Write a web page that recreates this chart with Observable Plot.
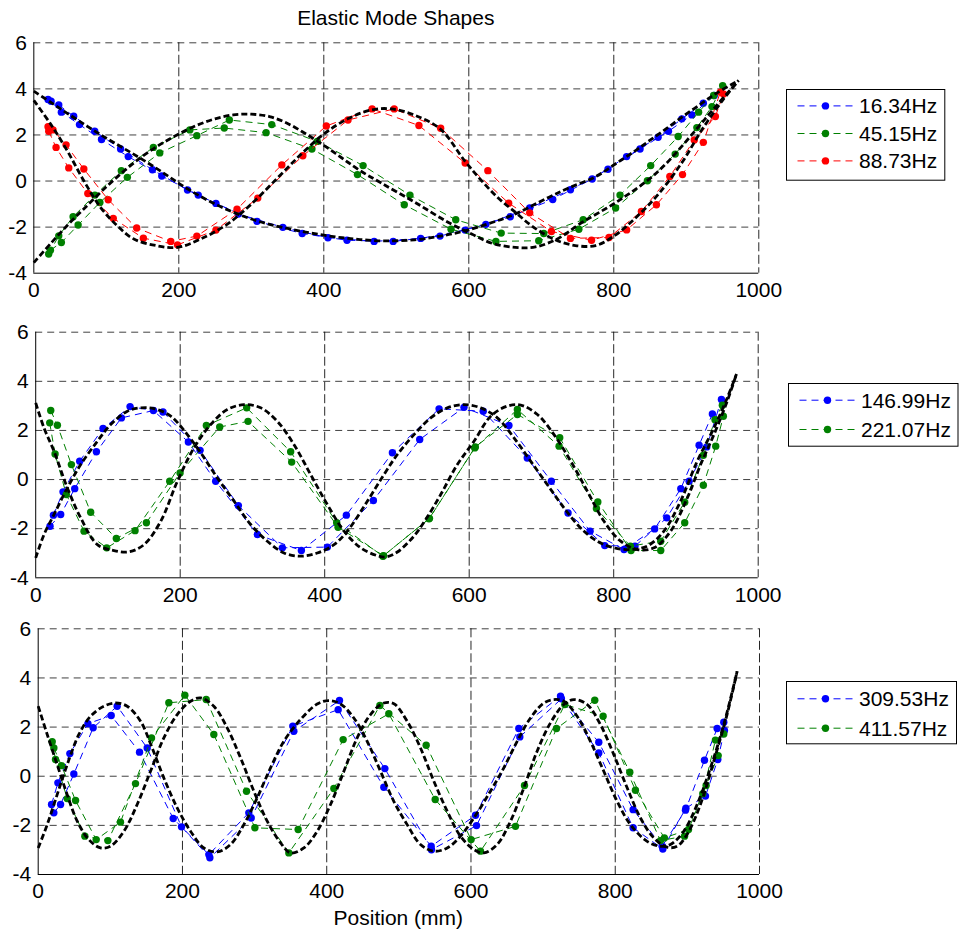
<!DOCTYPE html>
<html><head><meta charset="utf-8">
<script src="https://cdn.jsdelivr.net/npm/d3@7"></script>
<script src="https://cdn.jsdelivr.net/npm/@observablehq/plot@0.6"></script>
<style>
body{margin:0;background:#fff;}
#root{position:relative;width:959px;height:933px;overflow:hidden;font-family:"Liberation Sans",Arial,Helvetica,sans-serif;color:#000;}
#root > *{position:absolute;}
.t{font-size:21px;line-height:21px;text-align:center;white-space:nowrap;}
</style></head><body><div id="root"></div>
<script>
// ---------- ticks / labels ----------
const xTicks = [0, 200, 400, 600, 800, 1000];
const yTicks = [-4, -2, 0, 2, 4, 6];
const titleText = "Elastic Mode Shapes";
const xLabelText = "Position (mm)";
const labels1 = ["16.34Hz", "45.15Hz", "88.73Hz"];
const labels2 = ["146.99Hz", "221.07Hz"];
const labels3 = ["309.53Hz", "411.57Hz"];

// ---------- panel 1 measured ----------
const pos16 = [19.6,23.8,34.4,38,55,63,84,93.4,119.7,130.3,163.6,176.5,212,226.8,251.2,282.1,307.9,343.5,370.2,405.7,432,469.4,495.7,533.6,560.3,594.9,623.5,657.2,684,715.8,740.2,770.2,792,817.7,836.2,861.1,875.4,893.9,907.7,923.5,938.6];
const amp16 = [3.54,3.46,3.30,2.99,2.81,2.45,2.16,1.80,1.39,1.06,0.49,0.22,-0.39,-0.61,-0.97,-1.43,-1.75,-2.01,-2.28,-2.46,-2.57,-2.62,-2.62,-2.49,-2.39,-2.13,-1.88,-1.55,-1.17,-0.80,-0.38,0.09,0.51,1.06,1.39,1.90,2.16,2.70,2.87,3.38,3.71];
const pos45 = [20.5,22.9,34.4,38,54.2,61.1,84.2,91.1,120.7,129,164.9,173.7,215.2,224.9,262.7,269.7,320.4,328.2,383.6,391,446.4,454.2,511,518.8,575.5,582,637.4,644.7,696.5,703.4,751.8,757.8,802.5,808.6,846.4,850.9,884.7,888.8,914.6,917,935.4,937.7,950.2];
const amp45 = [-3.17,-3.0,-2.38,-2.67,-1.55,-1.91,-0.61,-0.93,0.45,0.16,1.46,1.22,2.22,1.97,2.30,2.65,2.10,2.45,1.39,1.72,0.28,0.67,-1.03,-0.61,-2.09,-1.68,-2.62,-2.26,-2.59,-2.28,-2.09,-1.68,-1.17,-0.61,0.01,0.67,1.17,1.93,2.32,2.99,3.23,3.71,4.14];
const pos88 = [19.6,20.6,26.5,30.7,44.5,48.2,69,74.5,102.6,109.6,141.9,151.1,188.9,198.2,224.9,251.2,280.3,308.9,342.1,371.1,403.5,433.4,466.6,497.1,531.2,561.2,595,626.3,655,684,714,740.2,769.3,793.4,817.7,838.1,858.8,877.3,894.8,911,923.5,940.1,947,951.2];
const amp88 = [2.36,2.16,2.22,1.46,1.57,0.57,0.52,-0.54,-0.81,-1.62,-2.04,-2.48,-2.62,-2.77,-2.39,-2.13,-1.22,-0.74,0.70,1.10,2.39,2.65,3.13,3.13,2.41,2.29,0.78,0.45,-0.96,-1.38,-2.19,-2.49,-2.57,-2.45,-2.12,-1.32,-1.03,0.20,0.28,1.78,1.68,2.80,3.86,3.78];

// ---------- panel 1 reference (black) ----------
const m1x = [0,25,50,75,100,125,150,175,200,225,250,275,300,325,350,375,400,425,450,480,525,563,595,632,664,710,738,775,802,830,849,872,895,918,941,972];
const m1y = [3.90,3.38,2.86,2.35,1.86,1.40,0.93,0.43,-0.10,-0.58,-1.00,-1.35,-1.65,-1.88,-2.06,-2.22,-2.35,-2.46,-2.54,-2.60,-2.55,-2.38,-2.16,-1.80,-1.43,-0.71,-0.30,0.19,0.74,1.32,1.75,2.26,2.80,3.30,3.80,4.36];
const m2x = [0,25,50,75,100,125,150,175,200,225,250,275,300,325,350,375,400,425,450,480,526,572,604,632,664,692,724,756,802,849,872,895,918,941,972];
const m2y = [-3.54,-2.65,-1.80,-1.02,-0.25,0.45,1.08,1.60,2.04,2.42,2.70,2.87,2.90,2.80,2.50,2.05,1.55,1.00,0.45,-0.10,-0.93,-1.80,-2.30,-2.70,-2.88,-2.86,-2.48,-1.80,-0.95,0.09,0.75,1.55,2.40,3.25,4.36];
const m3x = [0,23,46,69,92,115,138,170,198,230,267,300,337,369,400,433,466,493,526,561,595,618,641,664,687,719,747,775,802,830,862,895,922,950,972];
const m3y = [3.50,2.48,1.32,0.01,-1.14,-1.94,-2.52,-2.81,-2.88,-2.52,-1.87,-1.00,0.16,1.17,2.04,2.70,3.09,3.13,2.85,2.25,0.85,0.0,-0.75,-1.35,-1.95,-2.55,-2.80,-2.80,-2.35,-1.60,-0.55,0.85,2.25,3.50,4.36];

// ---------- panel 2 measured ----------
const pos147 = [19.8,24.5,34.6,37.8,54,60.9,84,93.2,118.6,130.6,162.9,176.2,211.3,227.5,249.1,280.5,306.8,341.4,367.7,403.7,430,467.4,493.7,531.5,558.3,592.8,619.4,655,680.4,713.7,736.8,767.3,787.6,814.3,829.5,856.7,873.4,892.9,904.4,918.2,928.8,936.6,949.1];
const amp147 = [-1.90,-1.45,-1.42,-0.50,-0.37,0.75,1.13,2.08,2.51,2.97,2.81,2.75,1.53,1.19,-0.07,-1.06,-2.24,-2.78,-2.89,-2.75,-1.45,-0.85,1.09,1.63,2.88,2.94,2.78,2.20,0.88,-0.07,-1.36,-2.10,-2.69,-2.85,-2.71,-2.01,-1.56,-0.37,-0.07,1.40,1.33,2.67,3.26];
const pos221 = [19.4,20.8,26.8,30,42.4,49.4,66.9,76.1,98.3,111.6,137.5,153.2,185.5,199.8,236.2,254.7,292,293.9,352.9,354.3,416.6,418.5,480.5,481.5,544.4,545,607.6,608.5,666.7,666.7,724.4,725.3,776.1,778,823.1,824,865.1,865.1,898.3,898.3,924.1,924.1,940.2,941.2,950.4,951.8];
const amp221 = [2.31,2.81,1.04,2.21,-0.61,0.61,-2.10,-1.33,-2.78,-2.40,-2.08,-1.76,-0.07,0.27,2.20,2.14,2.92,2.37,1.13,0.71,-1.76,-1.94,-3.12,-3.10,-1.60,-1.58,1.29,1.33,2.85,2.65,1.36,1.70,-1.18,-0.91,-2.71,-2.89,-2.51,-2.89,-0.92,-1.76,0.99,-0.23,2.44,1.36,3.03,2.58];

// ---------- panel 2 reference (black) ----------
const m4x = [0,11.5,25.4,43.8,62.3,85.4,103.8,126.9,145.3,163.8,186.9,209.9,228.4,251.4,274.5,297.6,320.6,343.7,366.8,389.8,412.9,431.4,459,482,500.6,523.6,546.7,569.7,592.8,615.9,638.9,662,685,708,731.1,754.2,777.2,800.3,823.4,846.4,869.5,892.6,915.6,938.7,957.1,970];
const m4y = [-3.19,-2.24,-1.42,-0.34,0.61,1.56,2.24,2.78,2.92,2.89,2.58,1.83,1.09,0.07,-0.88,-1.83,-2.51,-2.99,-3.12,-2.99,-2.65,-2.10,-0.88,0.20,1.02,1.83,2.51,2.92,3.05,2.92,2.51,1.70,0.75,-0.20,-1.15,-1.97,-2.51,-2.78,-2.85,-2.71,-2.10,-0.88,0.75,2.10,3.32,4.30];
const m5x = [0,11.5,25.4,43.8,62.3,85.4,108.4,129.2,149.9,173,196.1,219.1,242.2,265.2,288.3,311.4,334.4,357.6,380.6,403.7,426.8,449.8,472.9,485,500.6,523.6,540,560.6,583.6,606.7,629.8,652.8,671.3,694.4,717.4,740.5,763.5,786.6,809.7,832.7,855.8,878.8,901.9,920.3,938.7,957.1,970];
const m5y = [3.12,2.10,1.15,-0.34,-1.56,-2.65,-2.89,-2.94,-2.65,-1.70,-0.07,1.29,2.24,2.85,3.05,2.92,2.37,1.42,0.20,-1.02,-2.10,-2.78,-3.10,-3.15,-2.95,-2.30,-1.62,-0.61,0.61,1.56,2.58,2.99,3.03,2.65,1.83,0.75,-0.47,-1.70,-2.51,-2.85,-2.78,-2.10,-0.75,0.61,1.83,3.19,4.30];

// ---------- panel 3 measured ----------
const pos309 = [18.5,21.7,27.3,31,43.9,49.4,68.9,76.2,101.2,109.5,140.5,151.1,187.2,198.7,236.6,238,292,295.3,353,354.4,415.9,417.7,479.2,480.6,544.8,545.2,606.3,607.7,666.3,667.7,724.1,725.4,777.2,777.2,824.8,824.8,865,866,897.4,898,923.7,925.1,941.3,942.2,950.5,951.4];
const amp309 = [-1.15,-1.49,-0.27,-1.15,0.92,0.09,2.14,1.97,2.47,2.85,0.98,1.15,-1.72,-2.06,-3.19,-3.32,-1.49,-1.70,2.04,1.83,2.71,3.08,-0.45,0.31,-2.85,-2.99,-1.59,-2.01,1.94,1.60,3.26,3.15,1.38,0.95,-1.36,-2.10,-2.85,-2.96,-1.38,-1.30,0.65,-0.81,1.94,0.68,2.20,1.86];
const pos411 = [19.4,21.7,24,32.3,40.2,51.8,64.7,80.4,96.6,114.1,134.9,157.1,181.1,203.3,232.9,243.5,288.8,300.4,347.5,360.4,409.9,422.8,473.7,486.1,537.9,550.4,600.2,613.2,661.7,674.2,718.5,730.1,771.6,783.2,820.2,828,862.7,868.1,896.1,901.6,921.4,926,938.9,942.7,950.5];
const amp411 = [1.40,1.15,0.68,0.43,-0.91,-0.99,-2.44,-2.58,-2.62,-1.87,-0.30,1.56,2.99,3.30,3.12,1.70,-0.61,-2.10,-3.12,-2.17,-0.50,1.49,2.88,2.54,1.26,-0.95,-2.58,-3.05,-2.04,-0.38,1.94,2.92,3.09,2.44,0.16,-0.57,-2.62,-2.51,-2.44,-2.17,-0.71,-0.38,1.47,0.84,1.72];

// ---------- panel 3 reference (black) ----------
const m6x = [0,12.5,26.3,40.2,56.4,72.6,91,107.2,123.4,141.9,158,174.2,192.7,211.2,229.7,248.2,266.6,285.1,303.6,322.1,340.6,363.7,386.8,403,419.1,437.6,456.1,474.6,493,511.5,530,548.5,567,585.4,603.9,627,645.5,664,682.5,701,714.8,728.7,747.2,765.6,784.1,802.6,821.1,844.2,862.7,876.5,895,913.5,932,950.5,969];
const m6y = [-2.92,-1.97,-0.75,0.47,1.70,2.44,2.85,2.98,2.85,2.24,1.15,-0.07,-1.29,-2.24,-2.92,-3.08,-2.78,-1.97,-0.88,0.34,1.42,2.31,2.94,3.08,2.94,2.37,1.42,0.20,-1.02,-1.97,-2.78,-3.05,-2.92,-2.44,-1.70,-0.61,0.34,1.42,2.37,2.98,3.12,3.05,2.44,1.42,0.20,-1.02,-1.97,-2.65,-2.85,-2.78,-2.24,-1.15,0.34,2.10,4.27];
const m7x = [0,12.5,26.3,40.2,54.1,70.2,86.4,100.3,118.8,137.2,155.7,174.2,192.7,211.2,225,243.5,262,280.5,299,317.5,336,349.8,368.3,386.8,405.3,423.8,442.2,460.7,479.2,493.1,511.5,530,548.5,567,585.4,603.9,617.8,636.3,654.8,673.3,691.7,710.2,728.7,742.6,761,779.5,798,816.5,835,853.4,871.9,885.8,899.6,918.1,936.6,955,969];
const m7y = [2.85,1.70,0.47,-0.75,-1.83,-2.58,-2.92,-2.85,-2.24,-1.15,0.20,1.56,2.51,3.05,3.19,2.85,1.97,0.75,-0.61,-1.83,-2.71,-3.12,-2.92,-2.24,-1.15,0.20,1.56,2.51,2.98,2.95,2.24,1.15,-0.20,-1.42,-2.44,-2.98,-3.12,-2.78,-1.83,-0.47,1.02,2.17,2.92,3.12,2.92,2.10,0.88,-0.47,-1.70,-2.51,-2.89,-2.85,-2.37,-1.15,0.61,2.51,4.27];

// ---------- assembly ----------
const seriesColors = ["#0000ff", "#008000", "#ff0000"];
const panels = [
  {measured: [[pos16, amp16], [pos45, amp45], [pos88, amp88]], labels: labels1, ref: [[m1x, m1y], [m2x, m2y], [m3x, m3y]]},
  {measured: [[pos147, amp147], [pos221, amp221]], labels: labels2, ref: [[m4x, m4y], [m5x, m5y]]},
  {measured: [[pos309, amp309], [pos411, amp411]], labels: labels3, ref: [[m6x, m6y], [m7x, m7y]]}
];
// layout (pixels)
const layout = [
  {top: 0,   mt: 42.3, ph: 230.4, x0: 33.3, x1: 758.3, lg: {left: 786.7, top: 89.3, w: 158.3, h: 90.7, rows: [16.4, 44, 71.4]}},
  {top: 300, mt: 31.7, ph: 245.6, x0: 35.2, x1: 757.7, lg: {left: 788.3, top: 383.3, w: 169.5, h: 62.7, rows: [16.7, 46]}},
  {top: 600, mt: 28.3, ph: 245.7, x0: 37.7, x1: 759.0, lg: {left: 786.7, top: 681, w: 170, h: 62.3, rows: [17.3, 46.7]}}
];
const FONT = '"Liberation Sans", Arial, Helvetica, sans-serif';
const root = document.getElementById("root");
const W = 795, MB = 34;

panels.forEach((p, k) => {
  const L = layout[k];
  const marks = [
    Plot.ruleY(yTicks.filter(d => d > -4), {stroke: "#000", strokeOpacity: 0.75, strokeWidth: 1, strokeDasharray: "7,5"}),
    Plot.ruleX(xTicks.filter(d => d > 0), {stroke: "#000", strokeOpacity: 0.85, strokeWidth: 1, strokeDasharray: "9,3.5"}),
    Plot.ruleY([-4], {stroke: "#000", strokeWidth: 1}),
    Plot.ruleX([0], {stroke: "#000", strokeWidth: 1}),
    Plot.axisX({ticks: xTicks, tickSize: 0, tickPadding: 9, tickFormat: d => String(d), fontSize: 21, label: null}),
    Plot.axisY({ticks: yTicks, tickSize: 0, tickPadding: 7, tickFormat: d => String(d), fontSize: 21, label: null})
  ];
  p.measured.forEach(([xs, ys], i) => {
    const data = xs.map((x, j) => ({x, y: ys[j], row: j % 2}));
    marks.push(Plot.line(data, {x: "x", y: "y", z: "row", stroke: seriesColors[i], strokeWidth: 1, strokeDasharray: "7,5", strokeLinecap: "butt"}));
    marks.push(Plot.dot(data, {x: "x", y: "y", r: 3.7, fill: seriesColors[i], stroke: "none"}));
  });
  p.ref.forEach(([xs, ys]) => {
    const data = xs.map((x, j) => ({x, y: ys[j]}));
    marks.push(Plot.line(data, {x: "x", y: "y", stroke: "#000", strokeWidth: 2.8, strokeDasharray: "6,3", strokeLinecap: "butt", curve: "catmull-rom"}));
  });
  const svg = Plot.plot({
    width: W, height: L.mt + L.ph + MB,
    marginLeft: L.x0, marginRight: W - L.x1, marginTop: L.mt, marginBottom: MB,
    x: {domain: [0, 1000], label: null},
    y: {domain: [-4, 6], label: null},
    style: {fontFamily: FONT, fontSize: "21px", color: "#000", background: "transparent", overflow: "visible"},
    marks
  });
  svg.style.left = "0px";
  svg.style.top = L.top + "px";
  root.appendChild(svg);

  // legend
  const g = L.lg;
  const lg = d3.create("svg").attr("width", g.w + 2).attr("height", g.h + 2)
    .style("left", (g.left - 0.5) + "px").style("top", (g.top - 0.5) + "px")
    .style("font-family", FONT).style("font-size", "21px");
  lg.append("rect").attr("x", 0.5).attr("y", 0.5).attr("width", g.w).attr("height", g.h)
    .attr("fill", "#fff").attr("stroke", "#000").attr("stroke-width", 1);
  p.labels.forEach((lab, i) => {
    const cy = g.rows[i] + 0.5;
    lg.append("line").attr("x1", 11.5).attr("x2", 66.5).attr("y1", cy).attr("y2", cy)
      .attr("stroke", seriesColors[i]).attr("stroke-width", 1).attr("stroke-dasharray", "7,5");
    lg.append("circle").attr("cx", 39.5).attr("cy", cy).attr("r", 3.7).attr("fill", seriesColors[i]);
    lg.append("text").attr("x", 73).attr("y", cy).attr("dy", "0.36em").attr("fill", "#000").text(lab);
  });
  root.appendChild(lg.node());
});

// title and x label
const title = document.createElement("div");
title.className = "t";
title.textContent = titleText;
title.style.left = "33.3px"; title.style.width = "725px"; title.style.top = "7px";
root.appendChild(title);

const xl = document.createElement("div");
xl.className = "t";
xl.textContent = xLabelText;
xl.style.left = "37.7px"; xl.style.width = "721.3px"; xl.style.top = "907px";
root.appendChild(xl);
</script></body></html>
